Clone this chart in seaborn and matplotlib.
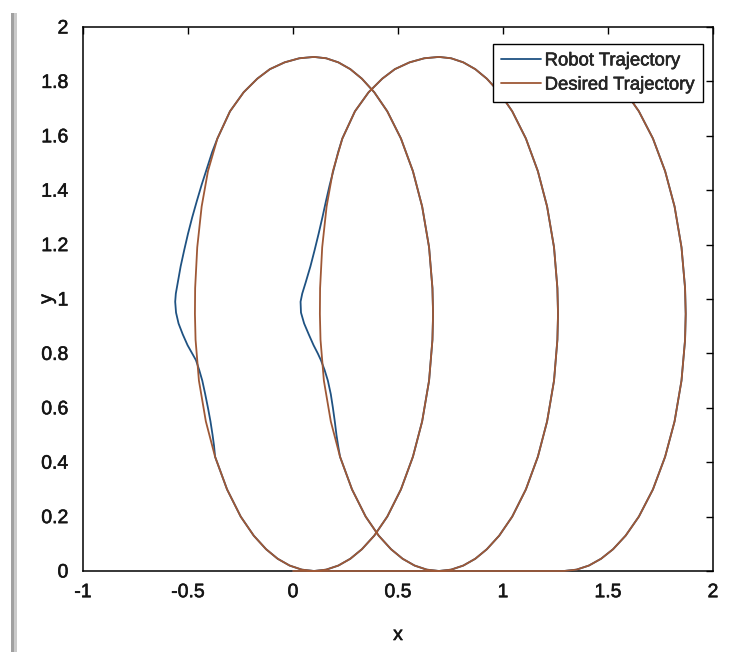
import numpy as np
import pandas as pd
import matplotlib
matplotlib.use("Agg")
import matplotlib.pyplot as plt
import matplotlib.patheffects as pe
from matplotlib.patches import Rectangle
from matplotlib.ticker import FixedLocator, FixedFormatter
import seaborn as sns

# ---------------------------------------------------------------------------
# Trajectory data (x, y in metres)
# ---------------------------------------------------------------------------
# sampled heights for the upward (right-hand) side of every loop
Y_UP = [0.0, 0.005, 0.02, 0.045, 0.08, 0.13, 0.2, 0.3, 0.42, 0.55, 0.7, 0.85, 0.945,
        1.04, 1.19, 1.34, 1.47, 1.59, 1.69, 1.76, 1.81, 1.845, 1.87, 1.885, 1.89]
# heights for the downward (left-hand) side, top to bottom
Y_DOWN = [1.885, 1.87, 1.845, 1.81, 1.76, 1.69, 1.59, 1.47, 1.34, 1.19, 1.04, 0.945,
          0.85, 0.7, 0.55, 0.42, 0.3, 0.2, 0.13, 0.08, 0.045, 0.02, 0.005, 0.0]

# loop 1
LOOP1_RIGHT_X = [0.1, 0.158, 0.216, 0.273, 0.328, 0.387, 0.449, 0.514, 0.571, 0.615, 0.648,
                 0.664, 0.667, 0.664, 0.648, 0.615, 0.571, 0.514, 0.449, 0.387, 0.328, 0.273,
                 0.216, 0.158, 0.1]
LOOP1_LEFT_X = [0.03, -0.04, -0.11, -0.17, -0.235, -0.30, -0.36, -0.405, -0.435, -0.456,
                -0.466, -0.467, -0.464, -0.448, -0.415, -0.371, -0.314, -0.249, -0.187,
                -0.128, -0.073, -0.016, 0.042, 0.1]
# loop 2
LOOP2_RIGHT_X = [0.695, 0.753, 0.811, 0.868, 0.923, 0.982, 1.044, 1.109, 1.166, 1.21, 1.243,
                 1.259, 1.262, 1.259, 1.243, 1.21, 1.166, 1.109, 1.044, 0.982, 0.923, 0.868,
                 0.811, 0.753, 0.695]
LOOP2_LEFT_X = [0.625, 0.555, 0.485, 0.425, 0.36, 0.295, 0.235, 0.19, 0.16, 0.139, 0.129,
                0.128, 0.131, 0.147, 0.18, 0.224, 0.281, 0.346, 0.408, 0.467, 0.522, 0.579,
                0.637, 0.695]
# loop 3 (final, partial loop)
LOOP3_RIGHT_X = [1.29, 1.35, 1.409, 1.467, 1.524, 1.584, 1.647, 1.714, 1.772, 1.817, 1.85,
                 1.867, 1.87, 1.867, 1.85, 1.817, 1.772, 1.714, 1.647, 1.584, 1.524, 1.467,
                 1.409, 1.35, 1.29]
LOOP3_LEFT_X = [1.23, 1.171, 1.113, 1.056]

# start of the run on the ground line
START_X, START_Y = [0.0], [0.0]

# robot deviation from the reference on the left side of loops 1 and 2
ROBOT1_DEV_X = [-0.385, -0.41, -0.435, -0.458, -0.48, -0.50, -0.518, -0.535, -0.549,
                -0.558, -0.561, -0.557, -0.545, -0.525, -0.502, -0.48, -0.462, -0.447,
                -0.432, -0.418, -0.405, -0.393, -0.383, -0.376]
ROBOT1_DEV_Y = [1.54, 1.48, 1.42, 1.36, 1.30, 1.24, 1.18, 1.12, 1.06, 1.02, 0.99, 0.95,
                0.91, 0.87, 0.83, 0.80, 0.775, 0.74, 0.70, 0.65, 0.60, 0.55, 0.50, 0.46]
ROBOT2_DEV_X = [0.215, 0.195, 0.175, 0.157, 0.14, 0.122, 0.103, 0.083, 0.06, 0.044,
                0.036, 0.038, 0.053, 0.075, 0.098, 0.118, 0.133, 0.15, 0.166, 0.18,
                0.19, 0.199, 0.207, 0.215]
ROBOT2_DEV_Y = [1.54, 1.48, 1.42, 1.36, 1.30, 1.24, 1.18, 1.12, 1.06, 1.02, 0.99, 0.95,
                0.91, 0.87, 0.83, 0.80, 0.775, 0.74, 0.70, 0.65, 0.60, 0.55, 0.50, 0.46]

SERIES = ["Robot Trajectory", "Desired Trajectory"]
XTICKS = [-1, -0.5, 0, 0.5, 1, 1.5, 2]
XTICK_LABELS = ["-1", "-0.5", "0", "0.5", "1", "1.5", "2"]
YTICKS = [0, 0.2, 0.4, 0.6, 0.8, 1, 1.2, 1.4, 1.6, 1.8, 2]
YTICK_LABELS = ["0", "0.2", "0.4", "0.6", "0.8", "1", "1.2", "1.4", "1.6", "1.8", "2"]

# ---------------------------------------------------------------------------
# assemble the two paths
# ---------------------------------------------------------------------------
n_keep = 7      # left-side samples kept before the deviation (down to y = 1.59)
n_rejoin = 15   # left-side sample where the robot is back on the path (y = 0.42)

desired_x = (START_X + LOOP1_RIGHT_X + LOOP1_LEFT_X + LOOP2_RIGHT_X + LOOP2_LEFT_X
             + LOOP3_RIGHT_X + LOOP3_LEFT_X)
desired_y = (START_Y + Y_UP + Y_DOWN + Y_UP + Y_DOWN + Y_UP + Y_DOWN[:len(LOOP3_LEFT_X)])

robot_x = (START_X + LOOP1_RIGHT_X + LOOP1_LEFT_X[:n_keep] + ROBOT1_DEV_X
           + LOOP1_LEFT_X[n_rejoin:] + LOOP2_RIGHT_X + LOOP2_LEFT_X[:n_keep] + ROBOT2_DEV_X
           + LOOP2_LEFT_X[n_rejoin:] + LOOP3_RIGHT_X + LOOP3_LEFT_X)
robot_y = (START_Y + Y_UP + Y_DOWN[:n_keep] + ROBOT1_DEV_Y + Y_DOWN[n_rejoin:] + Y_UP
           + Y_DOWN[:n_keep] + ROBOT2_DEV_Y + Y_DOWN[n_rejoin:] + Y_UP
           + Y_DOWN[:len(LOOP3_LEFT_X)])

df = pd.concat([
    pd.DataFrame({"x": robot_x, "y": robot_y, "series": SERIES[0]}),
    pd.DataFrame({"x": desired_x, "y": desired_y, "series": SERIES[1]}),
], ignore_index=True)

# ---------------------------------------------------------------------------
# figure
# ---------------------------------------------------------------------------
sns.set_style("white")
plt.rcParams["font.family"] = ["Liberation Sans", "DejaVu Sans"]
plt.rcParams["xtick.direction"] = "in"
plt.rcParams["ytick.direction"] = "in"

W, H = 737, 652
fig = plt.figure(figsize=(W / 100, H / 100), dpi=100)
fig.patch.set_facecolor("white")

# frame shadow on the left edge of the page
fig.patches.append(Rectangle((11 / W, 0), 3 / W, (H - 13) / H, transform=fig.transFigure,
                             facecolor="#a0a0a0", edgecolor="none", zorder=0))
fig.patches.append(Rectangle((14 / W, 0), 3 / W, (H - 13) / H, transform=fig.transFigure,
                             facecolor="#cacaca", edgecolor="none", zorder=0))

ax = fig.add_axes([83 / W, 1 - 571 / H, (713 - 83) / W, (571 - 27) / H])

palette = {SERIES[0]: "#1f5282", SERIES[1]: "#9e5836"}
sns.lineplot(data=df, x="x", y="y", hue="series", hue_order=SERIES, palette=palette,
             sort=False, estimator=None, ax=ax, linewidth=1.3)
for line in ax.get_lines():
    line.set_clip_on(False)
    line.set_zorder(3)

ax.set_xlim(-1, 2)
ax.set_ylim(0, 2)
ax.xaxis.set_major_locator(FixedLocator(XTICKS))
ax.xaxis.set_major_formatter(FixedFormatter(XTICK_LABELS))
ax.yaxis.set_major_locator(FixedLocator(YTICKS))
ax.yaxis.set_major_formatter(FixedFormatter(YTICK_LABELS))
ax.tick_params(which="both", direction="in", length=5, width=1.0, color="black",
               top=True, right=True, labelsize=14, labelcolor="#151515")
ax.tick_params(axis="x", pad=9.5)
ax.tick_params(axis="y", pad=10.5)
for sp in ax.spines.values():
    sp.set_visible(True)
    sp.set_color("black")
    sp.set_linewidth(1.1)

ax.set_xlabel("x", fontsize=14, color="#151515")
ax.set_ylabel("y", fontsize=14, color="#151515")
ax.xaxis.set_label_coords(0.5, -0.103)
ax.yaxis.set_label_coords(-0.043, 0.5)

handles, labels = ax.get_legend_handles_labels()
leg = ax.legend(handles, labels, loc="upper right", bbox_to_anchor=(0.984, 0.969),
                borderaxespad=0, fontsize=13.3, frameon=True, fancybox=False,
                framealpha=1, edgecolor="black", handlelength=2.15, handletextpad=0.2,
                labelspacing=0.39, borderpad=0.46)
leg.get_frame().set_linewidth(1.0)
for h in leg.get_lines():
    h.set_linewidth(1.3)

# slightly heavier text strokes
heavy = [pe.withStroke(linewidth=0.4, foreground="#151515")]
texts = (ax.get_xticklabels() + ax.get_yticklabels()
         + [ax.xaxis.label, ax.yaxis.label] + leg.get_texts())
for t in texts:
    t.set_path_effects(heavy)

fig.savefig("out.png", dpi=100, facecolor="white")
